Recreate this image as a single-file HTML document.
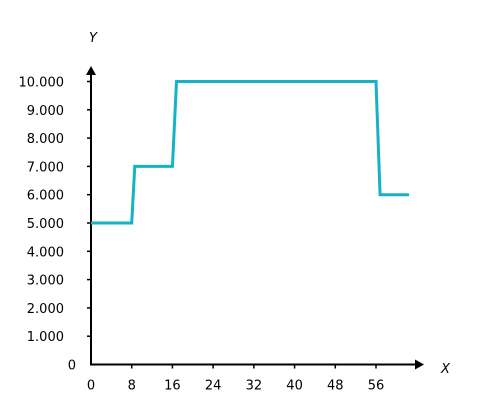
<!DOCTYPE html>
<html><head><meta charset="utf-8"><style>
body{margin:0;background:#fff;}
svg text{font-family:"DejaVu Sans","Liberation Sans",sans-serif;font-size:13px;fill:#000;}
</style></head><body>
<svg width="498" height="412" id="c">
</svg>
<script>
const xTicks=[0,8,16,24,32,40,48,56];
const yTicks=[0,1000,2000,3000,4000,5000,6000,7000,8000,9000,10000];
const yLabels=["0","1.000","2.000","3.000","4.000","5.000","6.000","7.000","8.000","9.000","10.000"];
const xVals=[0,8,8.6,16,16.8,56,56.8,62.5];
const yVals=[5000,5000,7000,7000,10000,10000,6000,6000];
const X0=91,Y0=364.5;
const sx=v=>X0+v*(376-91)/56;
const sy=v=>Y0-v*(Y0-81.5)/10000;
const svg=document.getElementById('c');
const NS='http://www.w3.org/2000/svg';
function mk(t,a,p){const e=document.createElementNS(NS,t);for(const k in a)e.setAttribute(k,a[k]);(p||svg).appendChild(e);return e;}
let ax=mk('line',{x1:X0,y1:Y0,x2:418,y2:Y0,stroke:'#000','stroke-width':2});


let ay=mk('line',{x1:X0,y1:Y0+1,x2:X0,y2:73,stroke:'#000','stroke-width':2});


let axa=mk('polygon',{points:'424,364.5 415,359.5 415,369.5',fill:'#000'});


let aya=mk('polygon',{points:'91,66 86,75 96,75',fill:'#000'});


xTicks.forEach((v,i)=>{
 const x=sx(v);
 if(i>0){const t=mk('line',{x1:x,y1:Y0,x2:x,y2:Y0+4,stroke:'#000','stroke-width':1.5});
 
 }
 const l=mk('text',{x:x,y:Y0+25,'text-anchor':'middle'});l.textContent=v;
 
 
});
yTicks.forEach((v,i)=>{
 const y=sy(v);
 if(i>0){const t=mk('line',{x1:X0-4,y1:y,x2:X0,y2:y,stroke:'#000','stroke-width':1.5});
 
 }
 const l=mk('text',{x:i==0?76:64,y:y+5,'text-anchor':'end'});l.textContent=yLabels[i];
 
 
});
let xt=mk('text',{x:441,y:373,'font-style':'italic'});xt.textContent='X';


let yt=mk('text',{x:89,y:42,'font-style':'italic'});yt.textContent='Y';


const pts=xVals.map((v,i)=>sx(v)+','+sy(yVals[i])).join(' ');
let ln=mk('polyline',{points:pts,fill:'none',stroke:'#16b2c6','stroke-width':3,'stroke-linejoin':'miter'});


</script>
</body></html>
